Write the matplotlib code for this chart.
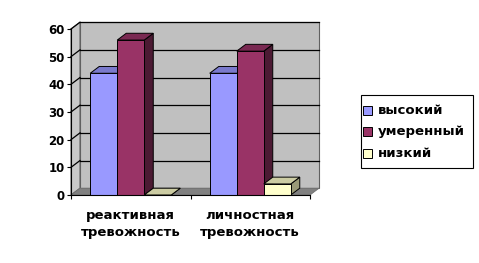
import matplotlib.pyplot as plt
from matplotlib.patches import Polygon, Rectangle

categories = ['реактивная\nтревожность', 'личностная\nтревожность']
series_names = ['высокий', 'умеренный', 'низкий']
high = [44, 44]
moderate = [56, 52]
low = [0, 4]
yticks = [0, 10, 20, 30, 40, 50, 60]

front_colors = ['#9999FF', '#993366', '#FFFFCC']
top_colors = ['#7A7ACC', '#7A2952', '#CCCCA3']
side_colors = ['#4C4C80', '#4C1A33', '#999977']

plt.rcParams['font.family'] = ['DejaVu Sans']
plt.rcParams['font.weight'] = 'bold'

W, H = 479, 263
fig = plt.figure(figsize=(W / 100, H / 100), dpi=100)
ax = fig.add_axes([71 / W, 68 / H, 239 / W, 166 / H])
ax.set_xlim(-0.5, 1.5)
ax.set_ylim(0, 60)
ax.patch.set_visible(False)

# depth offset of the fake 3d box, in data units
dx = 9 / 119.5
dy = 6.8 / (166 / 60)
x0, x1 = -0.5, 1.5
ymax = 60

# walls and floor
back = Polygon([(x0 + dx, dy), (x1 + dx, dy), (x1 + dx, ymax + dy), (x0 + dx, ymax + dy)],
               closed=True, fc='#C0C0C0', ec='#606060', lw=0.8, zorder=0, clip_on=False)
side = Polygon([(x0, 0), (x0 + dx, dy), (x0 + dx, ymax + dy), (x0, ymax)],
               closed=True, fc='#C8C8C8', ec='#606060', lw=0.8, zorder=0, clip_on=False)
floor = Polygon([(x0, 0), (x1, 0), (x1 + dx, dy), (x0 + dx, dy)],
                closed=True, fc='#808080', ec='#707070', lw=0.6, zorder=0.5, clip_on=False)
for p in (back, side, floor):
    ax.add_patch(p)

for v in yticks[1:]:
    ax.plot([x0 + dx, x1 + dx], [v + dy, v + dy], color='black', lw=0.9, zorder=0.3, clip_on=False)
    ax.plot([x0, x0 + dx], [v, v + dy], color='black', lw=0.9, zorder=0.3, clip_on=False)

# bars
w = 0.226
series = [high, moderate, low]
for i in range(len(categories)):
    for j, vals in enumerate(series):
        v = vals[i]
        left = i + (j - 1) * w - w / 2
        right = left + w
        z = 2 + i * 3 + j
        side_poly = Polygon([(right, 0), (right + dx, dy), (right + dx, v + dy), (right, v)],
                            closed=True, fc=side_colors[j], ec='black', lw=0.7, zorder=z, clip_on=False)
        top_poly = Polygon([(left, v), (right, v), (right + dx, v + dy), (left + dx, v + dy)],
                           closed=True, fc=top_colors[j], ec='black', lw=0.7, zorder=z, clip_on=False)
        ax.add_patch(side_poly)
        ax.add_patch(top_poly)
        if v > 0:
            ax.bar(i + (j - 1) * w, v, width=w, color=front_colors[j], edgecolor='black',
                   linewidth=0.7, zorder=z, clip_on=False)

# axes
for s in ('top', 'right'):
    ax.spines[s].set_visible(False)
ax.spines['left'].set_zorder(20)
ax.spines['bottom'].set_zorder(20)
ax.set_yticks(yticks)
ax.tick_params(axis='y', length=3, width=0.8, pad=1.5, labelsize=8.5)
ax.set_xticks([0, 1])
ax.set_xticklabels(categories, fontsize=9.5, linespacing=1.45)
ax.set_xticks([-0.5, 0.5, 1.5], minor=True)
ax.tick_params(axis='x', which='major', length=0, pad=10)
ax.tick_params(axis='x', which='minor', length=3, width=0.8)

# legend box, drawn by hand in pixel positions
fig.patches.append(Rectangle((361 / W, 1 - 168 / H), 112 / W, 73 / H, transform=fig.transFigure,
                             fc='white', ec='black', lw=0.8))
for k, name in enumerate(series_names):
    cy = 110.5 + 21.3 * k
    fig.patches.append(Rectangle((363 / W, 1 - (cy + 4.5) / H), 9 / W, 9 / H,
                                 transform=fig.transFigure, fc=front_colors[k], ec='black', lw=0.7))
    fig.text(378 / W, 1 - cy / H, name, fontsize=9.5, fontweight='bold', va='center', ha='left')

fig.savefig('out.png', dpi=100)
